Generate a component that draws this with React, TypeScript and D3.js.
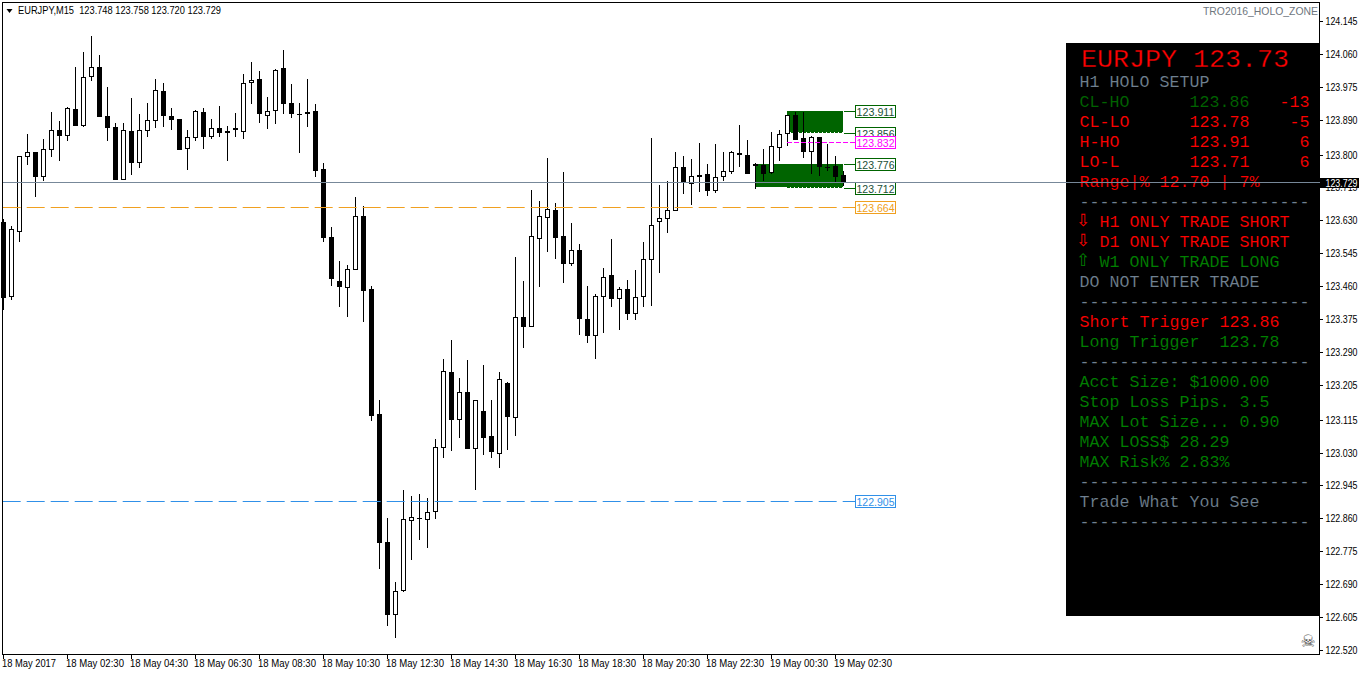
import React from "react";
import * as d3 from "d3";

const symbolLabel = "EURJPY,M15";
const indicatorName = "TRO2016_HOLO_ZONE";
const lastPrice = 123.729;

const opens = [
  123.625,123.432,123.599,123.793,123.806,123.742,123.811,123.863,123.848,123.917,
  123.873,124.000,124.026,123.899,123.871,123.734,123.860,123.778,123.860,123.886,
  123.964,123.899,123.891,123.814,123.842,123.910,123.845,123.868,123.860,123.868,
  123.858,123.985,123.995,123.899,123.912,124.023,123.933,123.905,123.910,123.912,
  123.762,123.587,123.473,123.455,123.501,123.641,123.452,123.129,122.798,122.610,
  122.672,122.853,122.860,122.855,122.876,123.041,123.238,123.114,123.186,123.039,
  123.137,123.072,123.026,123.209,123.119,123.380,123.354,123.581,123.636,123.656,
  123.589,123.517,123.553,123.375,123.331,123.432,123.488,123.426,123.452,123.388,
  123.432,123.527,123.625,123.633,123.654,123.767,123.724,123.747,123.749,123.705,
  123.742,123.755,123.804,123.798,123.775,123.773,123.752,123.817,123.853,123.902,
  123.842,123.806,123.845,123.769,123.770,123.748,
];
const highs = [
  123.633,123.615,123.796,123.853,123.806,123.840,123.910,123.886,123.922,124.026,
  124.065,124.106,124.057,123.974,123.881,123.881,123.946,123.904,123.933,123.995,
  123.984,123.920,123.891,123.863,123.915,123.920,123.891,123.925,123.873,123.907,
  124.008,124.039,124.016,123.948,124.021,124.070,123.982,123.933,123.995,123.930,
  123.778,123.612,123.525,123.514,123.690,123.667,123.460,123.165,122.860,122.695,
  122.933,122.917,122.922,122.912,123.065,123.271,123.320,123.222,123.269,123.165,
  123.256,123.165,123.238,123.212,123.535,123.473,123.708,123.680,123.791,123.674,
  123.755,123.623,123.568,123.460,123.439,123.506,123.581,123.457,123.475,123.501,
  123.574,123.842,123.721,123.731,123.806,123.796,123.788,123.829,123.775,123.827,
  123.806,123.809,123.876,123.837,123.778,123.814,123.858,123.863,123.902,123.910,
  123.910,123.848,123.845,123.827,123.796,123.758,
];
const lows = [
  123.398,123.424,123.574,123.773,123.690,123.731,123.793,123.783,123.835,123.873,
  123.871,123.990,123.897,123.835,123.734,123.734,123.747,123.765,123.845,123.868,
  123.871,123.863,123.811,123.760,123.835,123.814,123.840,123.845,123.783,123.845,
  123.840,123.930,123.881,123.866,123.879,123.904,123.894,123.804,123.871,123.742,
  123.574,123.460,123.406,123.380,123.501,123.367,123.111,122.729,122.581,122.550,
  122.669,122.752,122.804,122.783,122.858,123.015,123.034,123.067,123.039,122.933,
  123.023,123.015,122.990,123.036,123.072,123.300,123.354,123.457,123.548,123.530,
  123.468,123.512,123.333,123.313,123.271,123.339,123.406,123.346,123.372,123.372,
  123.406,123.408,123.494,123.597,123.654,123.698,123.669,123.703,123.693,123.700,
  123.731,123.749,123.767,123.749,123.711,123.731,123.749,123.783,123.822,123.837,
  123.791,123.749,123.744,123.757,123.726,123.720,
];
const closes = [
  123.429,123.607,123.796,123.806,123.742,123.814,123.863,123.848,123.920,123.873,
  124.000,124.026,123.897,123.868,123.734,123.863,123.778,123.863,123.889,123.966,
  123.899,123.889,123.811,123.845,123.912,123.845,123.868,123.855,123.855,123.863,
  123.985,123.992,123.904,123.912,124.018,123.930,123.904,123.905,123.904,123.757,
  123.584,123.478,123.457,123.504,123.641,123.447,123.124,122.796,122.610,122.672,
  122.858,122.863,122.860,122.876,123.044,123.240,123.114,123.186,123.039,123.165,
  123.067,123.031,123.220,123.121,123.380,123.354,123.589,123.641,123.659,123.584,
  123.517,123.553,123.375,123.331,123.434,123.483,123.426,123.452,123.388,123.432,
  123.530,123.618,123.636,123.656,123.767,123.726,123.744,123.742,123.705,123.742,
  123.757,123.806,123.798,123.749,123.770,123.749,123.822,123.853,123.902,123.837,
  123.806,123.845,123.767,123.769,123.742,123.729,
];

const priceTicks = [
  124.145,124.060,123.975,123.890,123.800,123.715,123.630,123.545,123.460,123.375,
  123.290,123.205,123.115,123.030,122.945,122.860,122.775,122.690,122.605,122.520,
];
const timeTickIndex = [0,8,16,24,32,40,48,56,64,72,80,88,96,104];
const timeTickLabels = [
  "18 May 2017","18 May 02:30","18 May 04:30","18 May 06:30","18 May 08:30","18 May 10:30",
  "18 May 12:30","18 May 14:30","18 May 16:30","18 May 18:30","18 May 20:30","18 May 22:30",
  "19 May 00:30","19 May 02:30",
];

const zoneLevels = [123.911, 123.856, 123.776, 123.712];
const magentaLevel = 123.832;
const orangeLevel = 123.664;
const blueLevel = 122.905;
const upperZoneStart = 98;
const lowerZoneStart = 94;
const zoneEnd = 105;

const RED = "#ff0000";
const GREEN = "#008000";
const DARKGREEN = "#006400";
const GREY = "#708090";

// [text, colour, first column]
const panelRows: [string, string, number][] = [
  ["H1 HOLO SETUP", GREY, 0],
  ["CL-HO      123.86", DARKGREEN, 0],
  ["CL-LO      123.78", RED, 0],
  ["H-HO       123.91", RED, 0],
  ["LO-L       123.71", RED, 0],
  ["Range|% 12.70 | 7%", RED, 0],
  ["-----------------------", GREY, 0],
  ["H1 ONLY TRADE SHORT", RED, 2],
  ["D1 ONLY TRADE SHORT", RED, 2],
  ["W1 ONLY TRADE LONG", GREEN, 2],
  ["DO NOT ENTER TRADE", GREY, 0],
  ["-----------------------", GREY, 0],
  ["Short Trigger 123.86", RED, 0],
  ["Long Trigger  123.78", GREEN, 0],
  ["-----------------------", GREY, 0],
  ["Acct Size: $1000.00", GREEN, 0],
  ["Stop Loss Pips. 3.5", GREEN, 0],
  ["MAX Lot Size... 0.90", GREEN, 0],
  ["MAX LOSS$ 28.29", GREEN, 0],
  ["MAX Risk% 2.83%", GREEN, 0],
  ["-----------------------", GREY, 0],
  ["Trade What You See", GREY, 0],
  ["-----------------------", GREY, 0],
];
const panelDiffs: [string, number, number][] = [
  ["-13", 20, 1],
  ["-5", 21, 2],
  ["6", 22, 3],
  ["6", 22, 4],
];
const panelArrows: [string, string, number][] = [
  ["\u21e9", RED, 7],
  ["\u21e9", RED, 8],
  ["\u21e7", GREEN, 9],
];

const y = d3.scaleLinear().domain([124.145, 122.52]).range([21, 650]);
const x = d3.scaleLinear().domain([0, 105]).range([3.5, 843.5]);

const UI = "'Liberation Sans', Arial, sans-serif";
const MONO = "'Liberation Mono', 'Courier New', monospace";
const dash = "18 6";
const rowY = (k: number) => 87 + k * 20;
const colX = (k: number) => 1079.5 + k * 10;
const levelY = (v: number) => Math.round(y(v) - 0.3);
const thin = { stroke: "#000", strokeWidth: 0.12 } as const;

function Candle({ i }: { i: number }) {
  const cx = x(i);
  const o = opens[i], c = closes[i];
  const top = Math.round(y(Math.max(o, c)));
  const bottom = Math.round(y(Math.min(o, c)));
  const hi = Math.round(y(highs[i]));
  const lo = Math.round(y(lows[i]));
  const up = c > o;
  return (
    <g>
      <rect x={cx - 0.5} y={hi} width={1} height={Math.max(1, lo - hi)} fill="#000" />
      {up ? (
        <rect x={cx - 2} y={top + 0.5} width={4} height={Math.max(1, bottom - top - 1)} fill="#fff" stroke="#000" strokeWidth={1} />
      ) : (
        <rect x={cx - 2.5} y={top} width={5} height={Math.max(1, bottom - top)} fill="#000" />
      )}
    </g>
  );
}

function LevelBox({ v, color, text }: { v: number; color: string; text: string }) {
  const cy = levelY(v);
  return (
    <g>
      <rect x={855.5} y={cy - 5.5} width={40} height={12} fill="#fff" stroke={color} strokeWidth={1} />
      <text x={856.5} y={cy + 4.5} fontFamily={UI} fontSize={11} textLength={38} lengthAdjust="spacingAndGlyphs" fill={text}>{v.toFixed(3)}</text>
    </g>
  );
}

export default function App() {
  const yTop1 = levelY(zoneLevels[0]);
  const yBot1 = levelY(zoneLevels[1]);
  const yTop2 = levelY(zoneLevels[2]);
  const yBot2 = levelY(zoneLevels[3]);
  const xA = x(upperZoneStart) - 0.5;
  const xB = x(lowerZoneStart) - 0.5;
  const xE = x(zoneEnd) - 0.5;
  const last = opens.length - 1;
  const legend = `${symbolLabel}  ${opens[last].toFixed(3)} ${highs[last].toFixed(3)} ${lows[last].toFixed(3)} ${closes[last].toFixed(3)}`;
  const yLast = Math.round(y(lastPrice));
  return (
    <div style={{ position: "absolute", left: 0, top: 0 }}>
      <svg width={1362} height={675} style={{ display: "block", background: "#fff" }}>
        {/* zones */}
        <rect x={xA} y={yTop1} width={xE - xA} height={yBot1 - yTop1 - 1} fill={DARKGREEN} />
        <rect x={xB} y={yTop2} width={xE - xB} height={yBot2 - yTop2 - 1} fill={DARKGREEN} />
        <line x1={xA} x2={xE} y1={yBot1 - 0.5} y2={yBot1 - 0.5} stroke={DARKGREEN} strokeDasharray="3 1" />
        <line x1={xA} x2={xE} y1={yBot2 - 0.5} y2={yBot2 - 0.5} stroke={DARKGREEN} strokeDasharray="3 1" />

        {/* candles */}
        {opens.map((_, i) => <Candle key={i} i={i} />)}

        {/* dashed levels */}
        <line x1={2.7} x2={855} y1={levelY(orangeLevel) + 0.5} y2={levelY(orangeLevel) + 0.5} stroke="#f0a020" strokeDasharray={dash} />
        <line x1={2.7} x2={855} y1={levelY(blueLevel) + 0.5} y2={levelY(blueLevel) + 0.5} stroke="#3090e8" strokeDasharray={dash} />
        <line x1={xA} x2={855} y1={levelY(magentaLevel) + 0.5} y2={levelY(magentaLevel) + 0.5} stroke="#ff00ff" strokeDasharray="5 2" />

        {/* zone leaders and labels */}
        {zoneLevels.map((v) => {
          const cy = levelY(v) + 0.5;
          return <line key={v} x1={844} x2={855} y1={cy} y2={cy} stroke={DARKGREEN} />;
        })}
        {zoneLevels.map((v) => <LevelBox key={v} v={v} color={DARKGREEN} text="#1a4f38" />)}
        <LevelBox v={magentaLevel} color="#ff00ff" text="#ff00ff" />
        <LevelBox v={orangeLevel} color="#f0a020" text="#f0a020" />
        <LevelBox v={blueLevel} color="#3090e8" text="#3090e8" />

        {/* panel */}
        <rect x={1066} y={43} width={254} height={573} fill="#000" />
        <text x={1081} y={67} fontFamily={MONO} fontSize={26.67} fill={RED} stroke="#000" strokeWidth={0.35}>EURJPY 123.73</text>
        {panelRows.map(([t, col, c], k) => (
          <text key={k} x={colX(c)} y={rowY(k)} fontFamily={MONO} fontSize={16.67} fill={col} {...thin} style={{ whiteSpace: "pre" }}>{t}</text>
        ))}
        {panelDiffs.map(([t, c, r], k) => (
          <text key={k} x={colX(c)} y={rowY(r)} fontFamily={MONO} fontSize={16.67} fill={RED} {...thin}>{t}</text>
        ))}
        {panelArrows.map(([t, col, r], k) => (
          <text key={k} x={1076} y={rowY(r) - 1} fontFamily="'DejaVu Sans', sans-serif" fontSize={17} fill={col}>{t}</text>
        ))}

        {/* frame */}
        <rect x={2.5} y={2.5} width={1317} height={652} fill="none" stroke="#000" strokeWidth={1} />

        {/* price axis */}
        {priceTicks.map((v) => {
          const cy = Math.round(y(v));
          return (
            <g key={v}>
              <line x1={1320} x2={1323} y1={cy + 0.5} y2={cy + 0.5} stroke="#000" />
              <text x={1325.5} y={cy + 4} fontFamily={UI} fontSize={10.5} textLength={32} lengthAdjust="spacingAndGlyphs" fill="#000">{v.toFixed(3)}</text>
            </g>
          );
        })}

        {/* current price */}
        <line x1={3} x2={1320} y1={yLast + 0.5} y2={yLast + 0.5} stroke="#778899" />
        <rect x={1320} y={yLast - 4} width={39} height={10} fill="#000" />
        <text x={1325.5} y={yLast + 5} fontFamily={UI} fontSize={10.5} textLength={32} lengthAdjust="spacingAndGlyphs" fill="#fff">{lastPrice.toFixed(3)}</text>

        {/* time axis */}
        {timeTickIndex.map((idx, k) => (
          <g key={idx}>
            <line x1={x(idx)} x2={x(idx)} y1={655} y2={659} stroke="#000" />
            <text x={x(idx) - 1.5} y={667} fontFamily={UI} fontSize={10.5} textLength={k === 0 ? 54 : 58} lengthAdjust="spacingAndGlyphs" fill="#000">{timeTickLabels[k]}</text>
          </g>
        ))}

        {/* header */}
        <path d="M6.5 9 L12.5 9 L9.5 13 Z" fill="#000" />
        <text x={18} y={14} fontFamily={UI} fontSize={10.5} textLength={203} lengthAdjust="spacingAndGlyphs" fill="#000" style={{ whiteSpace: "pre" }}>{legend}</text>
        <text x={1203} y={15} fontFamily={UI} fontSize={10.5} textLength={115} lengthAdjust="spacingAndGlyphs" fill="#6e767e">{indicatorName}</text>
        <text x={1308} y={647} textAnchor="middle" fontFamily="'DejaVu Sans', sans-serif" fontSize={17} fill="#444">{"\u2620"}</text>
      </svg>
    </div>
  );
}
